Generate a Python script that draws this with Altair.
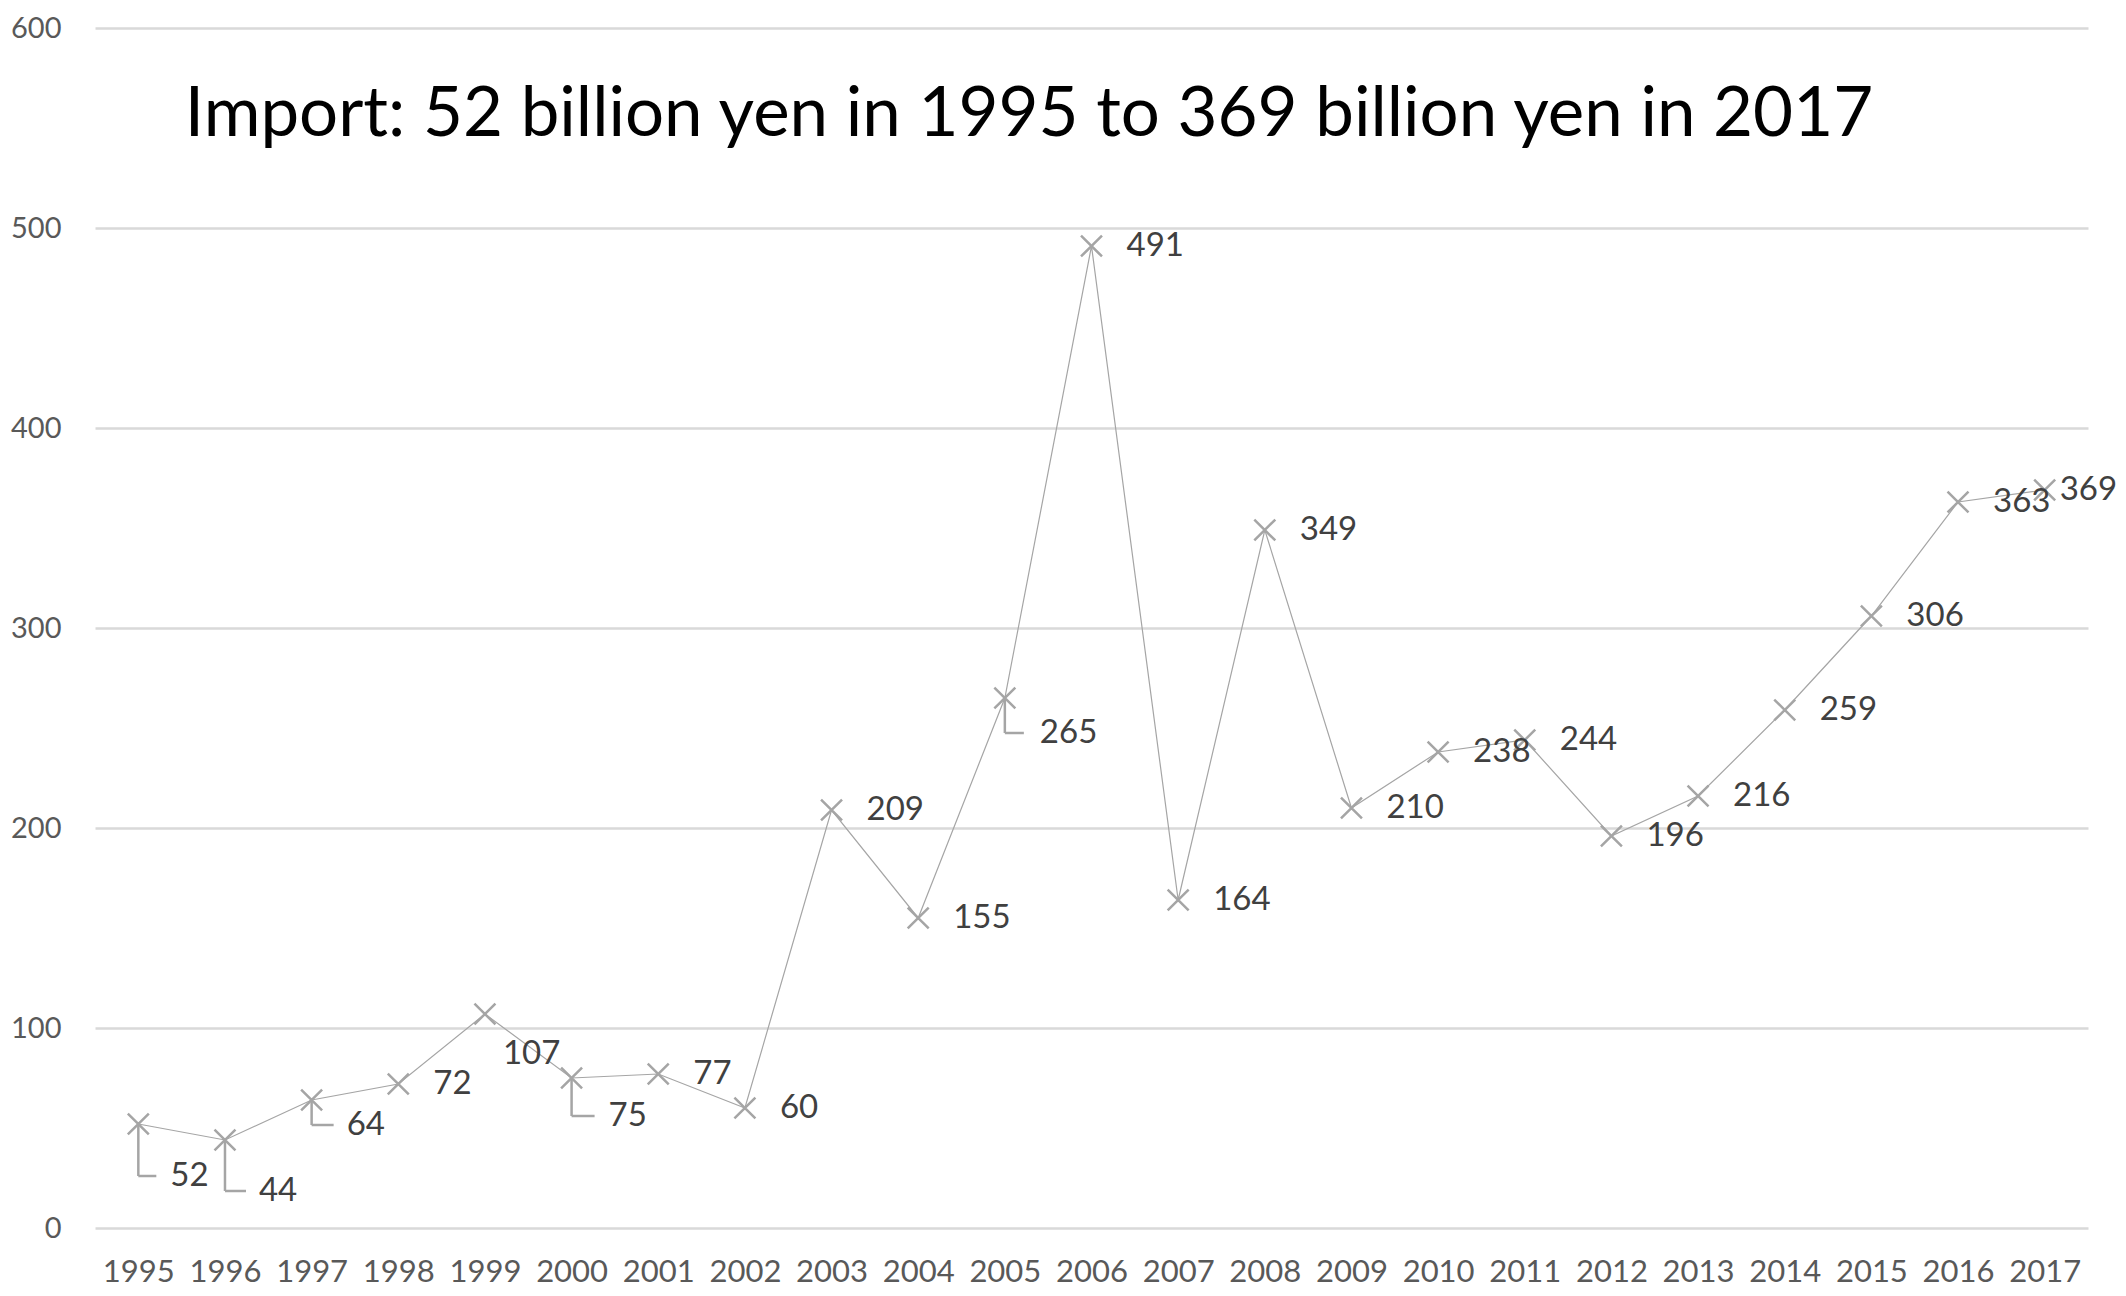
import altair as alt
import pandas as pd

# ---- data ----
years = list(range(1995, 2018))
imports = [52, 44, 64, 72, 107, 75, 77, 60, 209, 155, 265, 491, 164,
           349, 210, 238, 244, 196, 216, 259, 306, 363, 369]
y_ticks = [0, 100, 200, 300, 400, 500, 600]
title_text = "Import: 52 billion yen in 1995 to 369 billion yen in 2017"

# ---- label placement (pixel offsets from the marker) ----
label_default = (35, 0)
label_shift = {1995: (32, 52), 1996: (34, 51), 1997: (35, 25), 1999: (18, 40),
               2000: (37, 38), 2005: (35, 35), 2017: (15, 0)}
# leader lines: (drop in px, horizontal run in px)
leaders = {1995: (52, 18), 1996: (51, 21), 1997: (25, 22), 2000: (38, 23), 2005: (35, 19)}

FONT = "Lato"
GRAY = "#A5A5A5"

df = pd.DataFrame({"year": years, "value": imports})

x_enc = alt.X("year:O", scale=alt.Scale(type="point", padding=0.5),
              axis=alt.Axis(title=None, labelAngle=0, ticks=False, tickSize=0, domain=False,
                            grid=False, labelFont=FONT, labelFontSize=31,
                            labelColor="#595959", labelPadding=29))
y_enc = alt.Y("value:Q", scale=alt.Scale(domain=[0, 600], nice=False, zero=True),
              axis=alt.Axis(title=None, values=y_ticks, ticks=False, tickSize=0, domain=False,
                            grid=True, gridColor="#D9D9D9", gridWidth=2.5,
                            labelFont=FONT, labelFontSize=29, labelColor="#595959",
                            labelPadding=34))

base = alt.Chart(df)

line = base.mark_line(color=GRAY, strokeWidth=1.2).encode(x=x_enc, y=y_enc)

layers = [line]

for yr, (drop, run) in leaders.items():
    sub = base.transform_filter(alt.datum.year == yr)
    vert = sub.mark_rule(color=GRAY, strokeWidth=2.5, y2Offset=drop).encode(
        x=x_enc, y=y_enc, y2=alt.Y2("value:Q"))
    horiz = sub.mark_rule(color=GRAY, strokeWidth=2.5, x2Offset=run, yOffset=drop).encode(
        x=x_enc, x2=alt.X2("year:O"), y=y_enc)
    layers += [vert, horiz]

points = base.mark_point(shape="M-1,-1L1,1M-1,1L1,-1", size=440, filled=False,
                         color=GRAY, strokeWidth=2.5, opacity=1).encode(x=x_enc, y=y_enc)
layers.append(points)

shifted = list(label_shift.keys())
default_labels = base.transform_filter(
    "indexof(%s, datum.year) < 0" % str(shifted)
).mark_text(align="left", baseline="middle", dx=label_default[0], dy=label_default[1],
            font=FONT, fontSize=33, color="#404040").encode(x=x_enc, y=y_enc, text="value:Q")
layers.append(default_labels)

for yr, (dx, dy) in label_shift.items():
    t = base.transform_filter(alt.datum.year == yr).mark_text(
        align="left", baseline="middle", dx=dx, dy=dy, font=FONT, fontSize=33,
        color="#404040").encode(x=x_enc, y=y_enc, text="value:Q")
    layers.append(t)

title = alt.Chart(pd.DataFrame({"t": [title_text]})).mark_text(
    align="center", baseline="alphabetic", font=FONT, fontSize=69, color="#000000"
).encode(x=alt.value(934), y=alt.value(108), text="t:N")
layers.append(title)

chart = alt.layer(*layers).properties(
    width=1993, height=1200,
    autosize=alt.AutoSizeParams(type="none"),
    padding={"left": 87, "top": 20, "right": 30, "bottom": 60},
).configure_view(stroke=None)

chart.save("out.html", embed_options={"renderer": "svg", "actions": False})
